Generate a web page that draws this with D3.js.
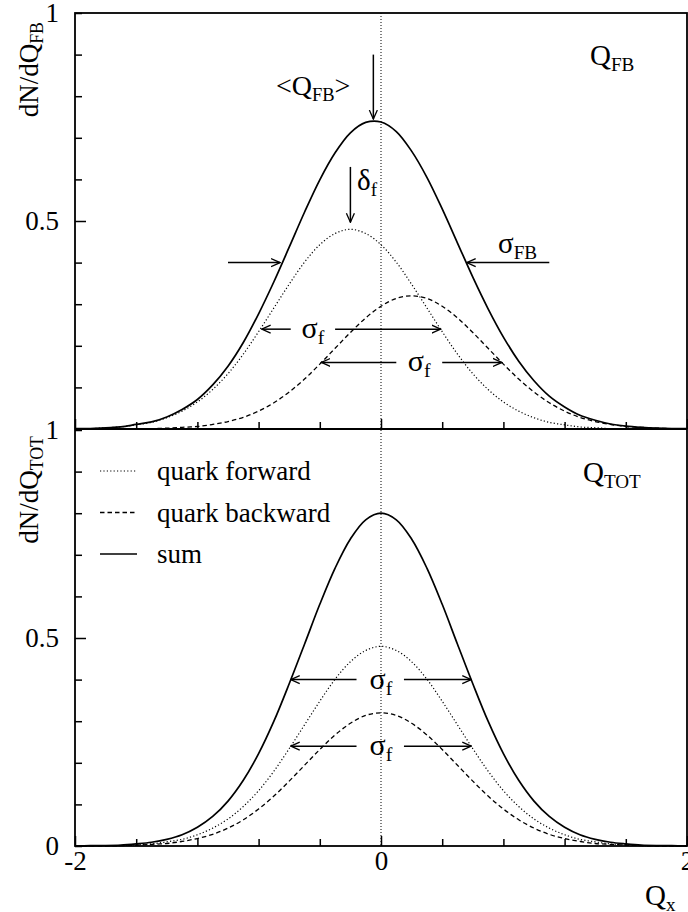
<!DOCTYPE html>
<html>
<head>
<meta charset="utf-8">
<script src="https://cdn.jsdelivr.net/npm/d3@7"></script>
<style>
  body { margin: 0; background: #fff; }
  svg { display: block; font-family: "Liberation Serif", "DejaVu Serif", serif; }
</style>
</head>
<body>
<svg id="chart" width="688" height="912"></svg>
<script>
// sample points along Q_x
var qx = [-2.0, -1.9, -1.8, -1.7, -1.6, -1.5, -1.4, -1.3, -1.2, -1.1,
          -1.0, -0.9, -0.8, -0.7, -0.6, -0.5, -0.4, -0.3, -0.2, -0.1,
           0.0,  0.1,  0.2,  0.3,  0.4,  0.5,  0.6,  0.7,  0.8,  0.9,
           1.0,  1.1,  1.2,  1.3,  1.4,  1.5,  1.6,  1.7,  1.8,  1.9, 2.0];

// upper panel (Q_FB)
var fbForward = [0.001, 0.001, 0.003, 0.005, 0.010, 0.016, 0.027, 0.043, 0.065, 0.095,
                 0.133, 0.180, 0.234, 0.291, 0.348, 0.401, 0.443, 0.470, 0.480, 0.470,
                 0.443, 0.401, 0.348, 0.291, 0.234, 0.180, 0.133, 0.095, 0.065, 0.043,
                 0.027, 0.016, 0.010, 0.005, 0.003, 0.001, 0.001, 0.000, 0.000, 0.000, 0.000];
var fbBackward = [0.000, 0.000, 0.000, 0.000, 0.001, 0.001, 0.002, 0.004, 0.006, 0.011,
                  0.018, 0.028, 0.043, 0.063, 0.089, 0.120, 0.156, 0.194, 0.232, 0.267,
                  0.295, 0.314, 0.320, 0.314, 0.295, 0.267, 0.232, 0.194, 0.156, 0.120,
                  0.089, 0.063, 0.043, 0.028, 0.018, 0.011, 0.006, 0.004, 0.002, 0.001, 0.001];
var fbSum = [0.001, 0.001, 0.003, 0.005, 0.011, 0.017, 0.029, 0.047, 0.071, 0.106,
             0.151, 0.208, 0.277, 0.354, 0.437, 0.521, 0.599, 0.664, 0.712, 0.737,
             0.738, 0.715, 0.668, 0.605, 0.529, 0.447, 0.365, 0.289, 0.221, 0.163,
             0.116, 0.079, 0.053, 0.033, 0.021, 0.012, 0.007, 0.004, 0.002, 0.001, 0.001];

// lower panel (Q_TOT)
var totForward = [0.000, 0.000, 0.001, 0.001, 0.003, 0.005, 0.010, 0.016, 0.027, 0.043,
                  0.065, 0.095, 0.133, 0.180, 0.234, 0.291, 0.348, 0.401, 0.443, 0.470,
                  0.480, 0.470, 0.443, 0.401, 0.348, 0.291, 0.234, 0.180, 0.133, 0.095,
                  0.065, 0.043, 0.027, 0.016, 0.010, 0.005, 0.003, 0.001, 0.001, 0.000, 0.000];
var totBackward = [0.000, 0.000, 0.000, 0.001, 0.002, 0.004, 0.006, 0.011, 0.018, 0.028,
                   0.043, 0.063, 0.089, 0.120, 0.156, 0.194, 0.232, 0.267, 0.295, 0.314,
                   0.320, 0.314, 0.295, 0.267, 0.232, 0.194, 0.156, 0.120, 0.089, 0.063,
                   0.043, 0.028, 0.018, 0.011, 0.006, 0.004, 0.002, 0.001, 0.000, 0.000, 0.000];
var totSum = [0.000, 0.001, 0.001, 0.002, 0.005, 0.009, 0.016, 0.027, 0.045, 0.071,
              0.108, 0.158, 0.222, 0.300, 0.390, 0.485, 0.581, 0.668, 0.738, 0.784,
              0.800, 0.784, 0.738, 0.668, 0.581, 0.485, 0.390, 0.300, 0.222, 0.158,
              0.108, 0.071, 0.045, 0.027, 0.016, 0.009, 0.005, 0.002, 0.001, 0.001, 0.000];

// ticks
var xTicks = [-2, -1.6, -1.2, -0.8, -0.4, 0, 0.4, 0.8, 1.2, 1.6, 2];
var xLabelled = [-2, 0, 2];
var yTicks = [0, 0.1, 0.2, 0.3, 0.4, 0.5, 0.6, 0.7, 0.8, 0.9, 1];
var yTopLabelled = [0.5, 1];
var yBotLabelled = [0, 0.5, 1];

var legendNames = ["quark forward", "quark backward", "sum"];

// annotation arrows, in data units: [x from, y from, x to (tip), y to]
var topArrows = [
    [-0.05, 0.90, -0.05, 0.745],
    [-0.20, 0.63, -0.20, 0.497],
    [-1.00, 0.40, -0.66, 0.40],
    [ 1.10, 0.40,  0.56, 0.40],
    [-0.59, 0.24, -0.78, 0.24],
    [-0.30, 0.24,  0.39, 0.24],
    [ 0.10, 0.16, -0.39, 0.16],
    [ 0.40, 0.16,  0.79, 0.16]
];
var botArrows = [
    [-0.16, 0.40, -0.59, 0.40],
    [ 0.15, 0.40,  0.59, 0.40],
    [-0.16, 0.24, -0.59, 0.24],
    [ 0.15, 0.24,  0.59, 0.24]
];
// sigma_f labels: [x centre, y]
var topSigmaF = [[-0.445, 0.24], [0.25, 0.16]];
var botSigmaF = [[0, 0.40], [0, 0.24]];

var svg = d3.select("#chart");

var plotLeft = 75, plotRight = 687, plotTop = 13, plotMid = 429, plotBottom = 846;

var x = d3.scaleLinear().domain([-2, 2]).range([plotLeft, plotRight]);
var yTop = d3.scaleLinear().domain([0, 1]).range([plotMid, plotTop]);
var yBot = d3.scaleLinear().domain([0, 1]).range([plotBottom, plotMid + 1]);

svg.append("defs").append("marker")
    .attr("id", "head")
    .attr("markerUnits", "userSpaceOnUse")
    .attr("viewBox", "0 0 10 10")
    .attr("refX", 9).attr("refY", 5)
    .attr("markerWidth", 10).attr("markerHeight", 10)
    .attr("orient", "auto")
    .append("path")
    .attr("d", "M0,1 L9,5 L0,9")
    .attr("fill", "none")
    .attr("stroke", "#000")
    .attr("stroke-width", 1.3);

// centre line
svg.append("line")
    .attr("x1", x(0)).attr("x2", x(0))
    .attr("y1", plotTop).attr("y2", plotBottom)
    .attr("stroke", "#000")
    .attr("stroke-width", 1)
    .attr("stroke-dasharray", "1,2");

var styles = [
    { dash: "1.2,2.2", width: 1.2 },
    { dash: "4.5,3", width: 1.3 },
    { dash: null, width: 1.7 }
];

function drawCurves(scale, series) {
    var line = d3.line()
        .x(function (d, i) { return x(qx[i]); })
        .y(function (d) { return scale(d); })
        .curve(d3.curveCatmullRom);
    series.forEach(function (s, k) {
        svg.append("path")
            .attr("d", line(s))
            .attr("fill", "none")
            .attr("stroke", "#000")
            .attr("stroke-width", styles[k].width)
            .attr("stroke-dasharray", styles[k].dash);
    });
}

drawCurves(yTop, [fbForward, fbBackward, fbSum]);
drawCurves(yBot, [totForward, totBackward, totSum]);

// frame
svg.append("rect")
    .attr("x", plotLeft).attr("y", plotTop)
    .attr("width", plotRight - plotLeft).attr("height", plotBottom - plotTop)
    .attr("fill", "none").attr("stroke", "#000").attr("stroke-width", 1.8);
svg.append("line")
    .attr("x1", plotLeft).attr("x2", plotRight)
    .attr("y1", plotMid).attr("y2", plotMid)
    .attr("stroke", "#000").attr("stroke-width", 1.8);

function styleAxis(g, major, len) {
    g.select(".domain").remove();
    g.selectAll("text").attr("font-size", 27).attr("font-family", "Liberation Serif, serif").attr("fill", "#000");
    g.selectAll(".tick line").attr("stroke", "#000").attr("stroke-width", 1.5);
    g.selectAll(".tick").filter(function (d) { return major.indexOf(d) >= 0; })
        .select("line").attr(len[0], len[1]);
}

function yAxis(scale, labelled) {
    var g = svg.append("g")
        .attr("transform", "translate(" + plotLeft + ",0)")
        .call(d3.axisLeft(scale)
            .tickValues(yTicks)
            .tickSizeInner(-7).tickSizeOuter(0).tickPadding(16)
            .tickFormat(function (d) { return labelled.indexOf(d) >= 0 ? String(d) : ""; }));
    styleAxis(g, [0.5], ["x2", 11]);
}
yAxis(yTop, yTopLabelled);
yAxis(yBot, yBotLabelled);

function xAxis(yPos, labels) {
    var g = svg.append("g")
        .attr("transform", "translate(0," + yPos + ")")
        .call(d3.axisBottom(x)
            .tickValues(xTicks)
            .tickSizeInner(-7).tickSizeOuter(0).tickPadding(5)
            .tickFormat(function (d) { return labels && xLabelled.indexOf(d) >= 0 ? String(d) : ""; }));
    styleAxis(g, xLabelled, ["y2", -10]);
}
xAxis(plotMid, false);
xAxis(plotBottom, true);

// text helper with subscript
function label(px, py, main, sub, size, anchor, extra) {
    var t = svg.append("text")
        .attr("font-size", size)
        .attr("text-anchor", anchor || "start");
    if (px !== null) t.attr("x", px).attr("y", py);
    t.append("tspan").text(main);
    t.append("tspan").attr("font-size", size * 0.66).attr("dy", size * 0.2).text(sub);
    if (extra) t.append("tspan").attr("dy", -size * 0.2).text(extra);
    return t;
}

// y titles
label(null, null, "dN/dQ", "FB", 27, "end").attr("transform", "translate(38,22) rotate(-90)");
label(null, null, "dN/dQ", "TOT", 27, "end").attr("transform", "translate(38,436) rotate(-90)");

// panel names
label(590, 65, "Q", "FB", 29);
label(583, 482, "Q", "TOT", 29);
label(645, 905, "Q", "x", 29);

// annotations
function arrows(scale, list) {
    list.forEach(function (a) {
        svg.append("line")
            .attr("x1", x(a[0])).attr("y1", scale(a[1]))
            .attr("x2", x(a[2])).attr("y2", scale(a[3]))
            .attr("stroke", "#000").attr("stroke-width", 1.5)
            .attr("marker-end", "url(#head)");
    });
}
arrows(yTop, topArrows);
arrows(yBot, botArrows);

label(276, 95, "<Q", "FB", 28, "start", ">");
label(357, 190, "\u03b4", "f", 29);
label(498, 253, "\u03c3", "FB", 29);

function sigmas(scale, list) {
    list.forEach(function (s) {
        label(x(s[0]), scale(s[1]) + 9, "\u03c3", "f", 30, "middle");
    });
}
sigmas(yTop, topSigmaF);
sigmas(yBot, botSigmaF);

// legend
legendNames.forEach(function (name, k) {
    var ly = 471 + k * 41.5;
    svg.append("line")
        .attr("x1", 100).attr("x2", 137)
        .attr("y1", ly).attr("y2", ly)
        .attr("stroke", "#000")
        .attr("stroke-width", styles[k].width)
        .attr("stroke-dasharray", styles[k].dash);
    svg.append("text")
        .attr("x", 157).attr("y", ly + 9)
        .attr("font-size", 27)
        .text(name);
});
</script>
</body>
</html>
